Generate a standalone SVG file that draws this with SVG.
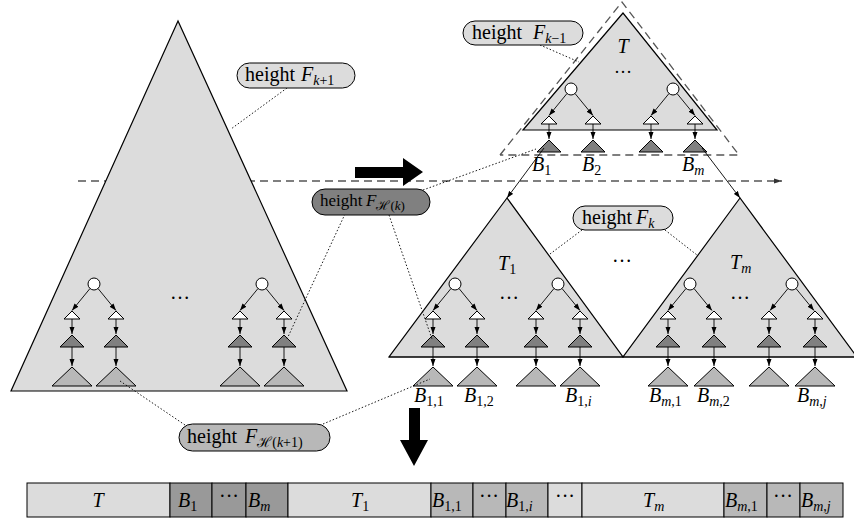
<svg xmlns="http://www.w3.org/2000/svg" xmlns:xlink="http://www.w3.org/1999/xlink" width="854" height="521" viewBox="0 0 854 521" font-family="'Liberation Serif', 'DejaVu Serif', serif">
<style>
text{font-family:"Liberation Serif","DejaVu Serif",serif;font-size:20px;fill:#000}
.it{font-style:italic}
.s{font-size:14px}
.big{fill:#dcdcdc;stroke:#000;stroke-width:1.2}
.wt{fill:#fff;stroke:#000;stroke-width:1}
.dk{fill:#808080;stroke:#000;stroke-width:1}
.md{fill:#b8b8b8;stroke:#000;stroke-width:1}
.ln{stroke:#000;stroke-width:0.9;fill:none;marker-end:url(#ah)}
.dot{stroke:#000;stroke-width:0.9;fill:none;stroke-dasharray:1.5,2}
.dash{stroke:#555;stroke-width:1.3;fill:none;stroke-dasharray:8,5}
.lbl{stroke:#000;stroke-width:1}
.cell{stroke:#000;stroke-width:1}
</style>
<defs>
<marker id="ah" markerWidth="8" markerHeight="6" refX="7" refY="3" orient="auto" markerUnits="userSpaceOnUse"><path d="M0,0.5 L7,3 L0,5.5 z" fill="#000"/></marker>
<marker id="ahg" markerWidth="9" markerHeight="6" refX="8" refY="3" orient="auto" markerUnits="userSpaceOnUse"><path d="M0,0.5 L8,3 L0,5.5 z" fill="#333"/></marker>
<path id="tw" class="wt" d="M0,0 L8,8 L-8,8 Z"/>
<path id="td" class="dk" d="M0,0 L12,12 L-12,12 Z"/>
<path id="tm" class="md" d="M0,0 L20,19 L-20,19 Z"/>
<g id="col">
<use xlink:href="#tw" x="0" y="0"/>
<line class="ln" x1="0" y1="8" x2="0" y2="23"/>
<use xlink:href="#td" x="0" y="24"/>
<line class="ln" x1="0" y1="36" x2="0" y2="55"/>
<use xlink:href="#tm" x="0" y="56"/>
</g>
<g id="pair">
<circle cx="0" cy="0" r="6" fill="#fff" stroke="#000" stroke-width="1"/>
<line class="ln" x1="-4" y1="4.5" x2="-22" y2="26.5"/>
<line class="ln" x1="4" y1="4.5" x2="22" y2="26.5"/>
</g>
</defs>

<!-- dashed horizontal cut line -->
<line class="dash" x1="78" y1="181" x2="782" y2="181" marker-end="url(#ahg)"/>

<g id="leftTree">
<polygon class="big" points="178,21 11,391 347,391"/>
<use xlink:href="#pair" x="94" y="284"/>
<use xlink:href="#pair" x="262" y="284"/>
<use xlink:href="#col" x="72" y="311"/>
<use xlink:href="#col" x="116" y="311"/>
<use xlink:href="#col" x="240" y="311"/>
<use xlink:href="#col" x="284" y="311"/>
<text x="180" y="299" text-anchor="middle">…</text>
</g>

<g id="topTree">
<polygon class="big" points="623,13 523,130 717,130"/>
<use xlink:href="#pair" x="571" y="89"/>
<use xlink:href="#pair" x="673" y="89"/>
<g id="topCols">
<use xlink:href="#tw" x="549" y="116"/><line class="ln" x1="549" y1="124" x2="549" y2="139"/><use xlink:href="#td" x="549" y="140"/>
<use xlink:href="#tw" x="593" y="116"/><line class="ln" x1="593" y1="124" x2="593" y2="139"/><use xlink:href="#td" x="593" y="140"/>
<use xlink:href="#tw" x="651" y="116"/><line class="ln" x1="651" y1="124" x2="651" y2="139"/><use xlink:href="#td" x="651" y="140"/>
<use xlink:href="#tw" x="695" y="116"/><line class="ln" x1="695" y1="124" x2="695" y2="139"/><use xlink:href="#td" x="695" y="140"/>
</g>
<text class="it" x="623" y="53" text-anchor="middle">T</text>
<text x="623" y="73" text-anchor="middle" style="font-size:18px">…</text>
<polyline class="dash" points="500,155 622,2 739,155 500,155" stroke="#333" stroke-width="1"/>
<text x="532" y="171"><tspan class="it">B</tspan><tspan class="s" dy="4">1</tspan></text>
<text x="582" y="171"><tspan class="it">B</tspan><tspan class="s" dy="4">2</tspan></text>
<text x="682" y="171"><tspan class="it">B</tspan><tspan class="it s" dy="4">m</tspan></text>
</g>

<g id="T1tree">
<polygon class="big" points="507,198 389,357 623,357"/>
<use xlink:href="#pair" x="455" y="284"/>
<use xlink:href="#pair" x="558" y="284"/>
<text x="498" y="270"><tspan class="it">T</tspan><tspan class="s" dy="4">1</tspan></text>
<text x="509" y="299" text-anchor="middle">…</text>
</g>

<g id="Tmtree">
<polygon class="big" points="740,198 623,357 857,357"/>
<use xlink:href="#pair" x="690" y="284"/>
<use xlink:href="#pair" x="792" y="284"/>
<text x="730" y="269"><tspan class="it">T</tspan><tspan class="it s" dy="4">m</tspan></text>
<text x="740" y="299" text-anchor="middle">…</text>
</g>
<line x1="389" y1="357" x2="854" y2="357" stroke="#000" stroke-width="1.2"/>
<g id="bottomCols">
<use xlink:href="#col" x="433" y="311"/>
<use xlink:href="#col" x="477" y="311"/>
<use xlink:href="#col" x="536" y="311"/>
<use xlink:href="#col" x="580" y="311"/>
<use xlink:href="#col" x="668" y="311"/>
<use xlink:href="#col" x="714" y="311"/>
<use xlink:href="#col" x="769" y="311"/>
<use xlink:href="#col" x="815" y="311"/>
</g>
<text x="622" y="262" text-anchor="middle">…</text>

<g id="bLabels">
<text x="414" y="402"><tspan class="it">B</tspan><tspan class="s" dy="4">1,1</tspan></text>
<text x="464" y="402"><tspan class="it">B</tspan><tspan class="s" dy="4">1,2</tspan></text>
<text x="565" y="402"><tspan class="it">B</tspan><tspan class="s" dy="4">1,</tspan><tspan class="it s">i</tspan></text>
<text x="649" y="402"><tspan class="it">B</tspan><tspan class="it s" dy="4">m</tspan><tspan class="s">,1</tspan></text>
<text x="697" y="402"><tspan class="it">B</tspan><tspan class="it s" dy="4">m</tspan><tspan class="s">,2</tspan></text>
<text x="797" y="402"><tspan class="it">B</tspan><tspan class="it s" dy="4">m</tspan><tspan class="s">,</tspan><tspan class="it s">j</tspan></text>
</g>

<g id="connectors">
<line class="ln" x1="544" y1="148" x2="507" y2="198"/>
<line class="ln" x1="702" y1="148" x2="740" y2="198"/>
<line class="dot" x1="287" y1="88" x2="231" y2="129"/>
<line class="dot" x1="540" y1="45" x2="579" y2="62"/>
<line class="dot" x1="423" y1="190" x2="536" y2="149"/>
<line class="dot" x1="345" y1="214" x2="287" y2="339"/>
<line class="dot" x1="389" y1="215" x2="432" y2="339"/>
<line class="dot" x1="582" y1="230" x2="550" y2="254"/>
<line class="dot" x1="665" y1="230" x2="697" y2="255"/>
<line class="dot" x1="185" y1="425" x2="120" y2="381"/>
<line class="dot" x1="323" y1="424" x2="430" y2="379"/>
</g>

<g id="labelFk1">
<rect class="lbl" x="237" y="63" width="118" height="25" rx="12.5" fill="#dcdcdc"/>
<text x="245" y="81">height <tspan class="it" x="301">F</tspan><tspan class="it s" dy="4">k</tspan><tspan class="s">+1</tspan></text>
</g>
<g id="labelFkm1">
<rect class="lbl" x="463" y="21" width="120" height="24" rx="12" fill="#dcdcdc"/>
<text x="472" y="39">height <tspan class="it" x="533">F</tspan><tspan class="it s" dy="4">k</tspan><tspan class="s">−1</tspan></text>
</g>
<g id="labelFHk">
<rect class="lbl" x="312" y="189" width="118" height="26" rx="13" fill="#808080"/>
<text x="320" y="206" style="font-size:17px">height <tspan class="it" x="366">F</tspan><tspan style="font-size:13px" dy="4">ℋ(</tspan><tspan class="it" style="font-size:13px">k</tspan><tspan style="font-size:13px">)</tspan></text>
</g>
<g id="labelFk">
<rect class="lbl" x="573" y="206" width="100" height="24" rx="12" fill="#dcdcdc"/>
<text x="582" y="224">height <tspan class="it" x="636">F</tspan><tspan class="it s" dy="4">k</tspan></text>
</g>
<g id="labelFHk1">
<rect class="lbl" x="179" y="424" width="151" height="27" rx="13.5" fill="#b8b8b8"/>
<text x="187" y="443">height <tspan class="it" x="245">F</tspan><tspan class="s" dy="4">ℋ(</tspan><tspan class="it s">k</tspan><tspan class="s">+1)</tspan></text>
</g>

<g id="bigArrows">
<polygon points="355,167 403,167 403,158 423,172 403,186 403,178 355,178" fill="#000"/>
<polygon points="409,408 420,408 420,440 428,440 414,466 400,440 409,440" fill="#000"/>
</g>

<g id="bar">
<rect class="cell" x="27" y="483" width="143" height="34" fill="#dcdcdc"/>
<rect class="cell" x="170" y="483" width="42" height="34" fill="#999"/>
<rect class="cell" x="212" y="483" width="34" height="34" fill="#999"/>
<rect class="cell" x="246" y="483" width="42" height="34" fill="#999"/>
<rect class="cell" x="288" y="483" width="143" height="34" fill="#dcdcdc"/>
<rect class="cell" x="431" y="483" width="42" height="34" fill="#b8b8b8"/>
<rect class="cell" x="473" y="483" width="33" height="34" fill="#b8b8b8"/>
<rect class="cell" x="506" y="483" width="42" height="34" fill="#b8b8b8"/>
<rect class="cell" x="548" y="483" width="34" height="34" fill="#dcdcdc"/>
<rect class="cell" x="582" y="483" width="142" height="34" fill="#dcdcdc"/>
<rect class="cell" x="724" y="483" width="43" height="34" fill="#b8b8b8"/>
<rect class="cell" x="767" y="483" width="33" height="34" fill="#b8b8b8"/>
<rect class="cell" x="800" y="483" width="43" height="34" fill="#b8b8b8"/>
<text class="it" x="98" y="507" text-anchor="middle">T</text>
<text x="178" y="507"><tspan class="it">B</tspan><tspan class="s" dy="4">1</tspan></text>
<text x="229" y="503" text-anchor="middle">···</text>
<text x="248" y="507"><tspan class="it">B</tspan><tspan class="it s" dy="4">m</tspan></text>
<text x="351" y="507"><tspan class="it">T</tspan><tspan class="s" dy="4">1</tspan></text>
<text x="432" y="507"><tspan class="it">B</tspan><tspan class="s" dy="4">1,1</tspan></text>
<text x="489" y="503" text-anchor="middle">···</text>
<text x="506" y="507"><tspan class="it">B</tspan><tspan class="s" dy="4">1,</tspan><tspan class="it s">i</tspan></text>
<text x="565" y="503" text-anchor="middle">···</text>
<text x="643" y="507"><tspan class="it">T</tspan><tspan class="it s" dy="4">m</tspan></text>
<text x="725" y="507"><tspan class="it">B</tspan><tspan class="it s" dy="4">m</tspan><tspan class="s">,1</tspan></text>
<text x="783" y="503" text-anchor="middle">···</text>
<text x="801" y="507"><tspan class="it">B</tspan><tspan class="it s" dy="4">m</tspan><tspan class="s">,</tspan><tspan class="it s">j</tspan></text>
</g>
</svg>
